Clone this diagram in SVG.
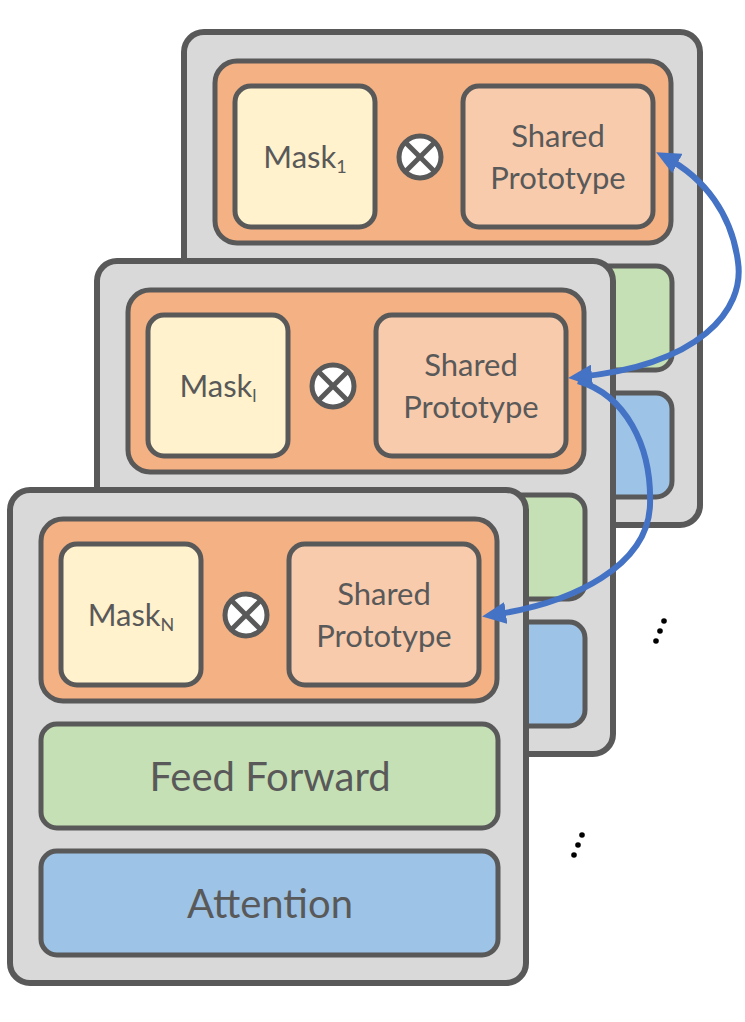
<svg xmlns="http://www.w3.org/2000/svg" width="745" height="1022" viewBox="0 0 745 1022">
<style>
.card{fill:#d9d9d9;stroke:#595959;stroke-width:6}
.orange{fill:#f4b183;stroke:#595959;stroke-width:5}
.mask{fill:#fff2cc;stroke:#595959;stroke-width:5}
.sp{fill:#f8cbad;stroke:#595959;stroke-width:5}
.ff{fill:#c5e0b4;stroke:#595959;stroke-width:5}
.att{fill:#9dc3e6;stroke:#595959;stroke-width:5}
.otc{fill:#ffffff;stroke:#595959;stroke-width:5}
.otx{stroke:#595959;stroke-width:5}
.t{font-family:Lato,"Liberation Sans",sans-serif;fill:#595959;text-anchor:middle}
.lbl{font-size:31px}
.big{font-size:40px}
.sub{font-size:18px}
.conn{fill:none;stroke:#4472c4;stroke-width:6}
.dot{fill:#000000}
</style>
<defs>
<marker id="ah" viewBox="0 0 24 22" markerWidth="24" markerHeight="22" refX="14" refY="11" orient="auto-start-reverse" markerUnits="userSpaceOnUse">
<path d="M0,0 L24,11 L0,22 z" fill="#4472c4"/>
</marker>
</defs>
<g id="layer-1" transform="translate(174,-458)">
<rect class="card" x="10" y="490" width="516" height="493" rx="20"/>
<rect class="orange" x="41" y="519" width="456" height="182" rx="22"/>
<rect class="mask" x="61" y="544" width="140" height="141" rx="16"/>
<text class="t lbl" x="131" y="626">Mask<tspan class="sub" dy="5">1</tspan></text>
<circle class="otc" cx="246" cy="615" r="21"/>
<line class="otx" x1="231" y1="600" x2="261" y2="630"/>
<line class="otx" x1="261" y1="600" x2="231" y2="630"/>
<rect class="sp" x="289" y="544" width="190" height="141" rx="16"/>
<text class="t lbl" x="384" y="605">Shared</text>
<text class="t lbl" x="384" y="647">Prototype</text>
<rect class="ff" x="41" y="724" width="457" height="104" rx="16"/>
<rect class="att" x="41" y="851" width="457" height="104" rx="16"/>
</g>
<g id="layer-l" transform="translate(87,-229)">
<rect class="card" x="10" y="490" width="516" height="493" rx="20"/>
<rect class="orange" x="41" y="519" width="456" height="182" rx="22"/>
<rect class="mask" x="61" y="544" width="140" height="141" rx="16"/>
<text class="t lbl" x="131" y="626">Mask<tspan class="sub" dy="5">l</tspan></text>
<circle class="otc" cx="246" cy="615" r="21"/>
<line class="otx" x1="231" y1="600" x2="261" y2="630"/>
<line class="otx" x1="261" y1="600" x2="231" y2="630"/>
<rect class="sp" x="289" y="544" width="190" height="141" rx="16"/>
<text class="t lbl" x="384" y="605">Shared</text>
<text class="t lbl" x="384" y="647">Prototype</text>
<rect class="ff" x="41" y="724" width="457" height="104" rx="16"/>
<rect class="att" x="41" y="851" width="457" height="104" rx="16"/>
</g>
<g id="layer-N">
<rect class="card" x="10" y="490" width="516" height="493" rx="20"/>
<rect class="orange" x="41" y="519" width="456" height="182" rx="22"/>
<rect class="mask" x="61" y="544" width="140" height="141" rx="16"/>
<text class="t lbl" x="131" y="626">Mask<tspan class="sub" dy="5">N</tspan></text>
<circle class="otc" cx="246" cy="615" r="21"/>
<line class="otx" x1="231" y1="600" x2="261" y2="630"/>
<line class="otx" x1="261" y1="600" x2="231" y2="630"/>
<rect class="sp" x="289" y="544" width="190" height="141" rx="16"/>
<text class="t lbl" x="384" y="605">Shared</text>
<text class="t lbl" x="384" y="647">Prototype</text>
<rect class="ff" x="41" y="724" width="457" height="104" rx="16"/>
<text class="t big" x="270" y="791">Feed Forward</text>
<rect class="att" x="41" y="851" width="457" height="104" rx="16"/>
<text class="t big" x="270" y="918">Attention</text>
</g>
<g id="connectors">
<path class="conn" d="M578,377 C700,365 745,310 738,262 C732,215 705,178 665,157" marker-start="url(#ah)" marker-end="url(#ah)"/>
<path class="conn" d="M578,381 C625,395 652,445 650,505 C648,565 575,603 492,615" marker-end="url(#ah)"/>
</g>
<g id="ellipsis">
<circle class="dot" cx="664" cy="621" r="2.8"/>
<circle class="dot" cx="660" cy="631" r="2.8"/>
<circle class="dot" cx="656" cy="641" r="2.8"/>
<circle class="dot" cx="582" cy="835" r="2.8"/>
<circle class="dot" cx="578" cy="845" r="2.8"/>
<circle class="dot" cx="574" cy="855" r="2.8"/>
</g>
</svg>
